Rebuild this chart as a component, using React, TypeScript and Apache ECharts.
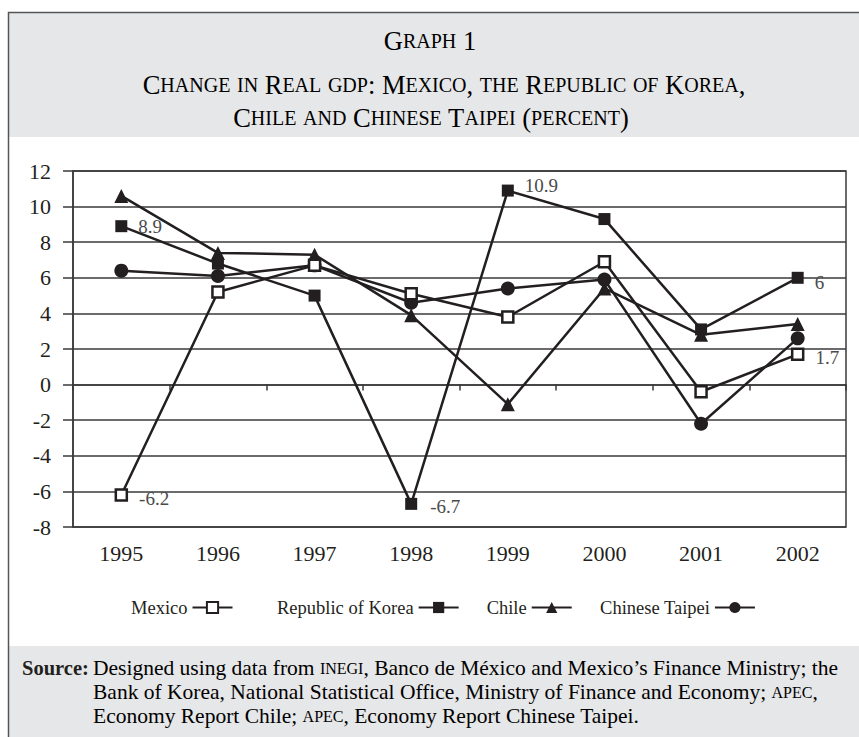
import React, { useEffect, useRef } from 'react';
import * as echarts from 'echarts';

// ---- data ----
const years = ['1995', '1996', '1997', '1998', '1999', '2000', '2001', '2002'];
const mexico = [-6.2, 5.2, 6.7, 5.1, 3.8, 6.9, -0.4, 1.7];
const korea = [8.9, 6.8, 5.0, -6.7, 10.9, 9.3, 3.1, 6.0];
const chile = [10.6, 7.4, 7.3, 3.9, -1.1, 5.4, 2.8, 3.4];
const taipei = [6.4, 6.1, 6.7, 4.6, 5.4, 5.9, -2.2, 2.6];
const yMin = -8;
const yMax = 12;
const yStep = 2;
const mexicoLabeled = [0, 7];
const koreaLabeled = [0, 3, 4, 7];

const SERIF = '"Liberation Serif", "Times New Roman", serif';
const INK = '#231f20';
const GRID = '#3a3a3a';
const BAND = '#e6e7e8';

function smallCaps(s: string): string {
  let out = '';
  let cur = '';
  let mode = '';
  for (const ch of s) {
    const m = ch >= 'a' && ch <= 'z' ? 's' : 'b';
    if (m !== mode && cur) {
      out += `{${mode}|${cur}}`;
      cur = '';
    }
    mode = m;
    cur += m === 's' ? ch.toUpperCase() : ch;
  }
  if (cur) out += `{${mode}|${cur}}`;
  return out;
}

const labelOffsets: Record<string, Record<number, [number, number]>> = {
  Mexico: { 0: [2, 4], 7: [2, 3] },
  'Republic of Korea': { 0: [2, 0], 3: [4, 3], 4: [2, -5], 7: [2, 5] },
};

function buildData(name: string, values: number[], labeled: number[]) {
  return values.map((v, i) => {
    if (!labeled.includes(i)) return v;
    const off = (labelOffsets[name] && labelOffsets[name][i]) || [0, 0];
    return {
      value: v,
      label: {
        show: true,
        position: 'right',
        distance: 9,
        offset: off,
        formatter: (p: any) => String(p.value),
        fontFamily: SERIF,
        fontSize: 19,
        color: '#4a4a4a',
      },
    };
  });
}

function lineSeries(name: string, values: number[], symbol: string, size: number, hollow: boolean, labeled: number[] = []) {
  return {
    name,
    type: 'line',
    data: buildData(name, values, labeled),
    symbol,
    symbolSize: size,
    showAllSymbol: true,
    lineStyle: { color: INK, width: 2.5 },
    itemStyle: hollow
      ? { color: '#ffffff', borderColor: INK, borderWidth: 2.5 }
      : { color: INK, borderColor: INK, borderWidth: 0 },
    emphasis: { disabled: true },
    z: 3,
  };
}

export default function App() {
  const ref = useRef<HTMLDivElement>(null);
  useEffect(() => {
    if (!ref.current) return;
    const chart = echarts.init(ref.current, undefined, { renderer: 'svg' });
    const titleRich = {
      b: { fontFamily: SERIF, fontSize: 26.5, color: INK },
      s: { fontFamily: SERIF, fontSize: 20, color: INK },
    };
    const srcRich = {
      n: { fontFamily: SERIF, fontSize: 21.5, color: INK },
      sc: { fontFamily: SERIF, fontSize: 16, color: INK },
    };
    const legendCommon = {
      top: 593,
      align: 'right',
      itemWidth: 40,
      itemHeight: 14,
      itemGap: 27,
      textStyle: { fontFamily: SERIF, fontSize: 18.5, color: INK },
      selectedMode: false,
    };
    const option: any = {
      animation: false,
      backgroundColor: '#ffffff',
      grid: {
        left: 73,
        right: 13,
        top: 171,
        bottom: 210,
        show: true,
        borderColor: GRID,
        borderWidth: 1.5,
        backgroundColor: 'transparent',
      },
      legend: [
        { ...legendCommon, data: ['Mexico'], left: 126 },
        { ...legendCommon, data: ['Republic of Korea', 'Chile', 'Chinese Taipei'], left: 272 },
      ],
      xAxis: [
        {
          type: 'category',
          data: years,
          boundaryGap: true,
          axisLine: { show: true, onZero: true, lineStyle: { color: GRID, width: 1.5 } },
          axisTick: { show: true, length: 6, lineStyle: { color: GRID, width: 1.5 } },
          axisLabel: { show: false },
          splitLine: { show: false },
        },
        {
          type: 'category',
          data: years,
          position: 'bottom',
          boundaryGap: true,
          axisLine: { show: false, onZero: false },
          axisTick: { show: false },
          axisLabel: { show: true, fontFamily: SERIF, fontSize: 22, color: INK, margin: 15 },
          splitLine: { show: false },
        },
      ],
      yAxis: {
        type: 'value',
        min: yMin,
        max: yMax,
        interval: yStep,
        axisLine: { show: true, lineStyle: { color: GRID, width: 1.5 } },
        axisTick: { show: true, inside: false, length: 10, lineStyle: { color: GRID, width: 1.5 } },
        axisLabel: { fontFamily: SERIF, fontSize: 22, color: INK, margin: 22 },
        splitLine: { show: true, lineStyle: { color: GRID, width: 1.5 } },
      },
      series: [
        lineSeries('Republic of Korea', korea, 'rect', 12, false, koreaLabeled),
        lineSeries('Chile', chile, 'triangle', 14, false),
        lineSeries('Chinese Taipei', taipei, 'circle', 14, false),
        lineSeries('Mexico', mexico, 'rect', 11, true, mexicoLabeled),
      ],
      graphic: [
        {
          type: 'rect',
          z: -10,
          silent: true,
          shape: { x: 9, y: 13, width: 860, height: 124 },
          style: { fill: BAND },
        },
        {
          type: 'rect',
          z: -10,
          silent: true,
          shape: { x: 9, y: 646, width: 860, height: 100 },
          style: { fill: BAND },
        },
        {
          type: 'rect',
          z: 10,
          silent: true,
          shape: { x: 8.5, y: 12.5, width: 870, height: 740 },
          style: { fill: 'none', stroke: '#555', lineWidth: 1.5 },
        },
        {
          type: 'text',
          x: 430,
          y: 41,
          style: {
            text: smallCaps('Graph 1'),
            rich: titleRich,
            align: 'center',
            verticalAlign: 'middle',
          },
        },
        {
          type: 'text',
          x: 444,
          y: 85,
          style: {
            text: smallCaps('Change in Real gdp: Mexico, the Republic of Korea,'),
            rich: titleRich,
            align: 'center',
            verticalAlign: 'middle',
          },
        },
        {
          type: 'text',
          x: 431,
          y: 118,
          style: {
            text: smallCaps('Chile and Chinese Taipei (percent)'),
            rich: titleRich,
            align: 'center',
            verticalAlign: 'middle',
          },
        },
        {
          type: 'text',
          x: 22,
          y: 668,
          style: {
            text: 'Source:',
            fontFamily: SERIF,
            fontSize: 20.5,
            fontWeight: 'bold',
            fill: INK,
            verticalAlign: 'middle',
          },
        },
        {
          type: 'text',
          x: 93,
          y: 668,
          style: {
            text: '{n|Designed using data from }{sc|INEGI}{n|, Banco de México and Mexico’s Finance Ministry; the}',
            rich: srcRich,
            verticalAlign: 'middle',
          },
        },
        {
          type: 'text',
          x: 93,
          y: 692,
          style: {
            text: '{n|Bank of Korea, National Statistical Office, Ministry of Finance and Economy; }{sc|APEC}{n|,}',
            rich: srcRich,
            verticalAlign: 'middle',
          },
        },
        {
          type: 'text',
          x: 93,
          y: 716,
          style: {
            text: '{n|Economy Report Chile; }{sc|APEC}{n|, Economy Report Chinese Taipei.}',
            rich: srcRich,
            verticalAlign: 'middle',
          },
        },
      ],
    };
    chart.setOption(option);
    return () => chart.dispose();
  }, []);
  return (
    <div
      ref={ref}
      style={{ position: 'fixed', left: 0, top: 0, width: 859, height: 737, background: '#fff' }}
    />
  );
}
